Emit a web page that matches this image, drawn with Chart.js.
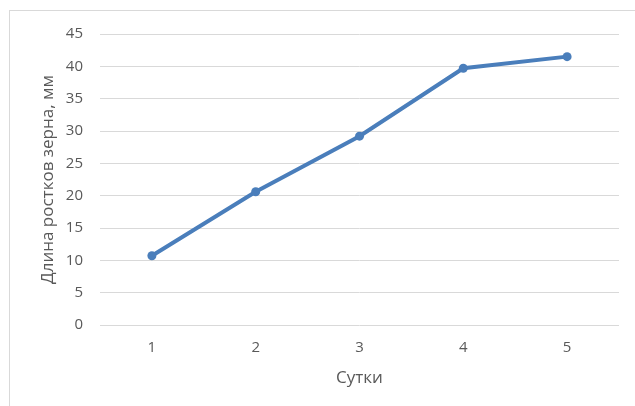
<!DOCTYPE html>
<html>
<head>
<meta charset="utf-8">
<script src="https://cdn.jsdelivr.net/npm/chart.js@4/dist/chart.umd.min.js"></script>
<style>
  html, body { margin: 0; padding: 0; background: #fff; }
  #frame {
    position: absolute; left: 9px; top: 10px;
    width: 626px; height: 396px;
    border-top: 1px solid #d9d9d9; border-left: 1px solid #d9d9d9;
  }
  #wrap { position: absolute; left: 1px; top: 1px; width: 625px; height: 395px; }
</style>
</head>
<body>
<div id="frame"><div id="wrap"><canvas id="chart"></canvas></div></div>
<script>
// данные графика
var sutki = ['1', '2', '3', '4', '5'];
var dlina = [10.7, 20.6, 29.2, 39.7, 41.5];

var tekst = '#595959';
var shrift = "'Open Sans', sans-serif";

new Chart(document.getElementById('chart'), {
    type: 'line',
    data: {
        labels: sutki,
        datasets: [{
            label: 'Длина ростков зерна, мм',
            data: dlina,
            borderColor: '#4a7ebb',
            backgroundColor: '#4a7ebb',
            borderWidth: 4,
            pointRadius: 4.5,
            pointHoverRadius: 4.5,
            pointBorderWidth: 0,
            tension: 0
        }]
    },
    options: {
        responsive: true,
        maintainAspectRatio: false,
        animation: false,
        layout: {
            padding: { left: 0, right: 17, top: 22, bottom: 0 }
        },
        plugins: {
            legend: { display: false },
            tooltip: { enabled: false }
        },
        scales: {
            x: {
                offset: true,
                grid: { display: false, drawTicks: false },
                border: { display: false },
                ticks: {
                    color: tekst,
                    font: { family: shrift, size: 15 },
                    padding: 14,
                    maxRotation: 0
                },
                title: {
                    display: true,
                    text: 'Сутки',
                    color: tekst,
                    font: { family: shrift, size: 17 },
                    padding: { top: 0, bottom: 19 }
                },
                afterFit: function (s) { s.height = 82; }
            },
            y: {
                min: 0,
                max: 45,
                ticks: {
                    stepSize: 5,
                    color: tekst,
                    font: { family: shrift, size: 15 },
                    padding: 17
                },
                grid: { color: '#d9d9d9', lineWidth: 1, drawTicks: false },
                border: { display: false },
                title: {
                    display: true,
                    text: 'Длина ростков зерна, мм',
                    color: tekst,
                    font: { family: shrift, size: 17 },
                    padding: { top: 27, bottom: 0 }
                },
                afterFit: function (s) {
                    s.width = 89;
                    s.paddingTop = 0;
                    s.paddingBottom = 0;
                }
            }
        }
    }
});
</script>
</body>
</html>
